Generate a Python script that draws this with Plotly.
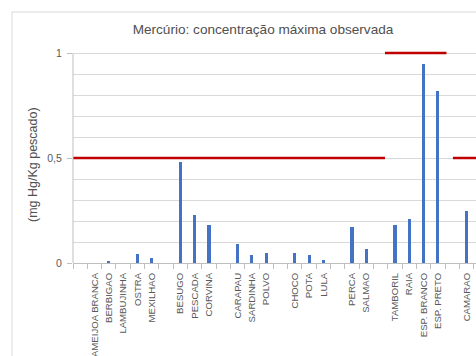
import plotly.graph_objects as go

# Species (empty strings are spacer slots between groups)
CATEGORIES = ["", "AMEIJOA BRANCA", "BERBIGAO", "LAMBUJINHA", "OSTRA", "MEXILHAO", "",
              "BESUGO", "PESCADA", "CORVINA", "",
              "CARAPAU", "SARDINHA", "POLVO", "",
              "CHOCO", "POTA", "LULA", "",
              "PERCA", "SALMAO", "",
              "TAMBORIL", "RAIA", "ESP. BRANCO", "ESP. PRETO", "",
              "CAMARAO"]

# Maximum mercury concentration observed (mg Hg/Kg)
MAX_HG = [None, 0.0, 0.01, 0.0, 0.045, 0.025, None,
          0.48, 0.23, 0.18, None,
          0.09, 0.04, 0.05, None,
          0.05, 0.04, 0.015, None,
          0.17, 0.065, None,
          0.18, 0.21, 0.95, 0.82, None,
          0.25]

# Legal limits: value and span (in category slot units)
LIMIT_VALUES = [0.5, 1.0, 0.5]
LIMIT_FROM = [-0.5, 21.3, 26.05]
LIMIT_TO = [21.3, 25.6, 29.0]

Y_TICKS = [0, 0.5, 1]
Y_TICK_TEXT = ["0", "0,5", "1"]

W, H = 476, 356
M_L, M_R, M_T, M_B = 73, 0, 50, 93
PX_PER_UNIT = 210
plot_h = H - M_T - M_B
plot_w = W - M_L - M_R
slot_px = 14.31
x_max = -0.5 + plot_w / slot_px

GREY_TXT = "#595959"
AXIS_GREY = "#BFBFBF"
GRID_GREY = "#D9D9D9"

xs = [i for i, v in enumerate(MAX_HG) if v is not None]
ys = [MAX_HG[i] for i in xs]

fig = go.Figure()
fig.add_trace(go.Bar(x=xs, y=ys, width=0.22, marker=dict(color="#4472C4", line=dict(width=0)),
                     showlegend=False, hoverinfo="skip"))

for v, a, b in zip(LIMIT_VALUES, LIMIT_FROM, LIMIT_TO):
    fig.add_trace(go.Scatter(x=[a, b], y=[v, v], mode="lines",
                             line=dict(color="#C00000", width=2.6),
                             showlegend=False, hoverinfo="skip"))

font = "Liberation Sans, Arial, sans-serif"

# y-axis line from 0 to 1
fig.add_shape(type="line", xref="paper", yref="y", x0=0, x1=0, y0=0, y1=1,
              line=dict(color=AXIS_GREY, width=1), layer="above")

# chart frame
fx0 = (12 - M_L) / plot_w
fy1 = (H - M_B - 12) / plot_h
fig.add_shape(type="rect", xref="paper", yref="paper", x0=fx0, x1=1.5, y0=-1, y1=fy1,
              line=dict(color=GRID_GREY, width=1), fillcolor="rgba(0,0,0,0)")

fig.add_annotation(text="(mg Hg/Kg pescado)", xref="paper", yref="paper",
                   x=0, y=(H - M_B - 165) / plot_h, xanchor="center", yanchor="middle",
                   xshift=33 - M_L, textangle=-90, showarrow=False,
                   font=dict(family=font, size=12.5, color="#505050"))

fig.update_layout(
    width=W, height=H,
    margin=dict(l=M_L, r=M_R, t=M_T, b=M_B),
    paper_bgcolor="white", plot_bgcolor="white",
    title=dict(text="Mercúrio: concentração máxima observada",
               xref="container", yref="container",
               x=263 / W, y=1 - 29 / H, xanchor="center", yanchor="middle",
               font=dict(family=font, size=13.6, color="#505050")),
    bargap=0,
    xaxis=dict(range=[-0.5, x_max], tickmode="array",
               tickvals=list(range(len(CATEGORIES))), ticktext=CATEGORIES,
               tickangle=-90, ticks="", ticklen=0, ticklabelstandoff=5,
               tickfont=dict(family=font, size=9.6, color=GREY_TXT),
               showgrid=False, zeroline=False,
               showline=True, linecolor=AXIS_GREY, linewidth=1,
               minor=dict(tickmode="linear", tick0=-0.5, dtick=1, ticks="outside",
                          ticklen=5, tickcolor=AXIS_GREY, showgrid=False)),
    yaxis=dict(range=[0, plot_h / PX_PER_UNIT], tickmode="array",
               tickvals=Y_TICKS, ticktext=Y_TICK_TEXT,
               ticks="outside", ticklen=5, tickcolor=AXIS_GREY, ticklabelstandoff=3,
               tickfont=dict(family=font, size=10.5, color=GREY_TXT),
               showgrid=True, gridcolor=GRID_GREY, gridwidth=1,
               zeroline=False, showline=False,
               minor=dict(tickmode="linear", tick0=0, dtick=0.1, showgrid=True,
                          gridcolor=GRID_GREY, gridwidth=1, ticks="")),
)

fig.write_html("out.html")
